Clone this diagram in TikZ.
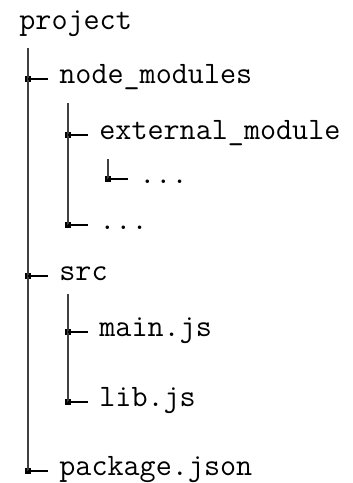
\documentclass[tikz,border=0pt]{standalone}
\usetikzlibrary{calc}
\begin{document}
\begin{tikzpicture}[x=0.5pt,y=-0.5pt,
  entry/.style={anchor=mid west,inner sep=0pt,font=\fontsize{15.6}{18}\ttfamily},
  stem/.style={line width=0.75pt,draw=black!75},
  twig/.style={line width=0.75pt,draw=black},
  knot/.style={fill=black,minimum size=3.4pt,inner sep=0pt,outer sep=0pt,rectangle}]
  \useasboundingbox (0,0) rectangle (353,483);
  % entries
  \node[entry] (project) at (19,25) {project};
  \node[entry] (nm)   at (59,79)  {node\_modules};
  \node[entry] (ext)  at (99,135) {external\_module};
  \node[entry] (extd) at (139,179) {...};
  \node[entry] (nmd)  at (99,225) {...};
  \node[entry] (src)  at (59,276) {src};
  \node[entry] (main) at (99,332) {main.js};
  \node[entry] (lib)  at (99,402) {lib.js};
  \node[entry] (pkg)  at (59,471) {package.json};
  % branch points
  \node[knot] (k1) at (28,79)  {};
  \node[knot] (k2) at (68,135) {};
  \node[knot] (k3) at (108,179) {};
  \node[knot] (k4) at (68,225) {};
  \node[knot] (k5) at (28,276) {};
  \node[knot] (k6) at (68,332) {};
  \node[knot] (k7) at (68,402) {};
  \node[knot] (k8) at (28,471) {};
  % trunks
  \coordinate (t0) at (28,48);
  \coordinate (t1) at (68,103);
  \coordinate (t2) at (108,159);
  \coordinate (t3) at (68,294);
  \draw[stem] (t0) -- (k8.center);
  \draw[stem] (t1) -- (k4.center);
  \draw[stem] (t2) -- (k3.center);
  \draw[stem] (t3) -- (k7.center);
  % branches
  \foreach \k/\n in {k1/nm,k2/ext,k3/extd,k4/nmd,k5/src,k6/main,k7/lib,k8/pkg}
    \draw[twig] (\k.center) -- ++(20,0);
\end{tikzpicture}
\end{document}
